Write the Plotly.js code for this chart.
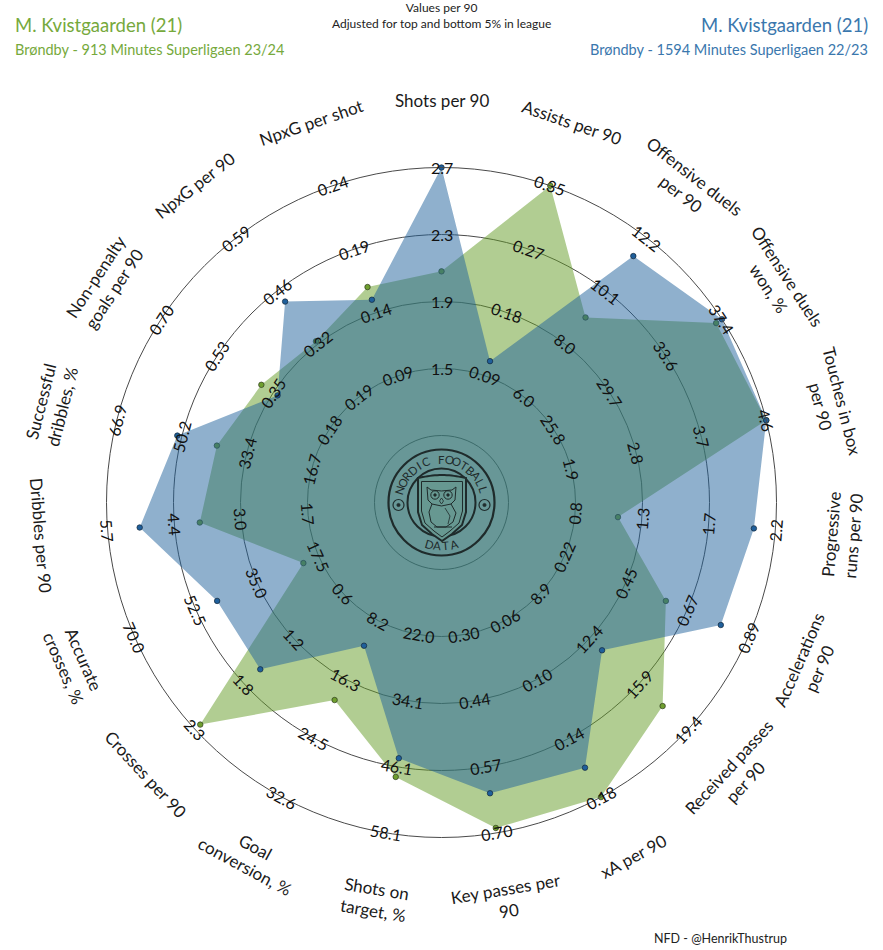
<!DOCTYPE html>
<html><head><meta charset="utf-8">
<script src="https://cdn.plot.ly/plotly-3.0.1.min.js"></script>
<style>html,body{margin:0;padding:0;background:#fff}#chart{width:883px;height:950px}</style>
</head><body><div id="chart"></div>
<script>
// ---------------- DATA ----------------
const params = ["Shots per 90","Assists per 90","Offensive duels<br>per 90","Offensive duels<br>won, %","Touches in box<br>per 90","Progressive<br>runs per 90","Accelerations<br>per 90","Received passes<br>per 90","xA per 90","Key passes per<br>90","Shots on<br>target, %","Goal<br>conversion, %","Crosses per 90","Accurate<br>crosses, %","Dribbles per 90","Successful<br>dribbles, %","Non-penalty<br>goals per 90","NpxG per 90","NpxG per shot"];
const ringLabels = [
 ["1.5","1.9","2.3","2.7"],
 ["0.09","0.18","0.27","0.35"],
 ["6.0","8.0","10.1","12.2"],
 ["25.8","29.7","33.6","37.4"],
 ["1.9","2.8","3.7","4.6"],
 ["0.8","1.3","1.7","2.2"],
 ["0.22","0.45","0.67","0.89"],
 ["8.9","12.4","15.9","19.4"],
 ["0.06","0.10","0.14","0.18"],
 ["0.30","0.44","0.57","0.70"],
 ["22.0","34.1","46.1","58.1"],
 ["8.2","16.3","24.5","32.6"],
 ["0.6","1.2","1.8","2.3"],
 ["17.5","35.0","52.5","70.0"],
 ["1.7","3.0","4.4","5.7"],
 ["16.7","33.4","50.2","66.9"],
 ["0.18","0.35","0.53","0.70"],
 ["0.19","0.32","0.46","0.59"],
 ["0.09","0.14","0.19","0.24"]
];
const values2324 = [2.08, 0.35, 9.1, 37.0, 4.6, 1.10, 0.59, 17.6, 0.18, 0.69, 47.9, 19.2, 2.24, 21.9, 3.86, 41.1, 0.39, 0.33, 0.16];
const values2223 = [2.7, 0.11, 11.5, 37.4, 4.6, 2.05, 0.79, 13.3, 0.16, 0.62, 44.5, 11.7, 1.55, 46.5, 5.06, 51.3, 0.34, 0.43, 0.15];
const name2324 = "M. Kvistgaarden (21)";
const sub2324 = "Brøndby - 913 Minutes Superligaen 23/24";
const name2223 = "M. Kvistgaarden (21)";
const sub2223 = "Brøndby - 1594 Minutes Superligaen 22/23";
const headNote = "Values per 90<br>Adjusted for top and bottom 5% in league";
const credit = "NFD - @HenrikThustrup";

// ---------------- LAYOUT HELPERS ----------------
const W = 883, H = 950;
const CX = 441.5, CY = 502.5, R = 335;       // polar centre & outer radius in px
const N = params.length;
const GREEN = "rgba(99,155,37,0.5)", BLUE = "rgba(31,97,155,0.5)";
const GREEN_TXT = "#76a93c", BLUE_TXT = "#3a77ad";
const DARK = "#1f2b2b";
const px = x => x / W, py = y => 1 - y / H;

function scaled(vals) {
  return vals.map((v, i) => {
    const lo = parseFloat(ringLabels[i][0]), hi = parseFloat(ringLabels[i][3]);
    const u = 2 + 3 * (v - lo) / (hi - lo);
    return Math.max(0, Math.min(5, u));
  });
}
const thetas = params.map((p, i) => i * 360 / N);

function tangentAngle(thetaStd) {
  let a = 90 - thetaStd;
  a = ((a + 180) % 360 + 360) % 360 - 180;
  if (a > 90) a -= 180;
  if (a < -90) a += 180;
  return a;
}
function polarPx(iTheta, rUnits) {
  const t = (90 - iTheta) * Math.PI / 180;
  const r = rUnits / 5 * R;
  return [CX + r * Math.cos(t), CY - r * Math.sin(t)];
}

const traces = [
  {type: "scatterpolar", r: scaled(values2324), theta: thetas, mode: "markers", fill: "toself",
   fillcolor: GREEN, line: {width: 0, color: "rgba(0,0,0,0)"},
   marker: {size: 5.5, color: "#6f9f2f", line: {color: "#2c3a1c", width: 0.7}}, hoverinfo: "skip"},
  {type: "scatterpolar", r: scaled(values2223), theta: thetas, mode: "markers", fill: "toself",
   fillcolor: BLUE, line: {width: 0, color: "rgba(0,0,0,0)"},
   marker: {size: 5.5, color: "#1f5f9b", line: {color: "#13263a", width: 0.7}}, hoverinfo: "skip"}
];

const annotations = [];
// category labels and ring labels
thetas.forEach((th, i) => {
  const std = 90 - th;
  const [lx, ly] = polarPx(th, 6);
  annotations.push({xref: "paper", yref: "paper", x: px(lx), y: py(ly), text: params[i], showarrow: false,
    textangle: tangentAngle(std), font: {family: "Lato", size: 17, color: "#1a1a1a"}, xanchor: "center", yanchor: "middle"});
  ringLabels[i].forEach((lab, k) => {
    const [rx, ry] = polarPx(th, 2 + k);
    annotations.push({xref: "paper", yref: "paper", x: px(rx), y: py(ry), text: lab, showarrow: false,
      textangle: tangentAngle(std), font: {family: "Lato", size: 16, color: "#111"}, xanchor: "center", yanchor: "middle"});
  });
});
// header / footer
annotations.push(
  {xref: "paper", yref: "paper", x: px(13), y: py(25), xanchor: "left", yanchor: "middle", showarrow: false, text: name2324, font: {family: "Lato", size: 18.5, color: GREEN_TXT}},
  {xref: "paper", yref: "paper", x: px(13), y: py(49), xanchor: "left", yanchor: "middle", showarrow: false, text: sub2324, font: {family: "Lato", size: 14.5, color: GREEN_TXT}},
  {xref: "paper", yref: "paper", x: px(870), y: py(25), xanchor: "right", yanchor: "middle", showarrow: false, text: name2223, font: {family: "Lato", size: 18.5, color: BLUE_TXT}},
  {xref: "paper", yref: "paper", x: px(870), y: py(49), xanchor: "right", yanchor: "middle", showarrow: false, text: sub2223, font: {family: "Lato", size: 14.5, color: BLUE_TXT}},
  {xref: "paper", yref: "paper", x: px(441), y: py(15), xanchor: "center", yanchor: "middle", showarrow: false, text: headNote, font: {family: "Lato", size: 12, color: "#222"}},
  {xref: "paper", yref: "paper", x: px(652), y: py(938), xanchor: "left", yanchor: "middle", showarrow: false, text: credit, font: {family: "Lato", size: 12.5, color: "#222"}}
);

// ---------------- LOGO (drawn as shapes + letters) ----------------
const shapes = [];
function circ(cx, cy, r, lw, fill) {
  shapes.push({type: "circle", xref: "paper", yref: "paper", x0: px(cx - r), x1: px(cx + r), y0: py(cy + r), y1: py(cy - r),
    line: {color: DARK, width: lw}, fillcolor: fill || "rgba(0,0,0,0)", layer: "above"});
}
function path(pts, lw, fill, close) {
  let d = pts.map((p, j) => (j ? "L" : "M") + px(p[0]).toFixed(5) + "," + py(p[1]).toFixed(5)).join(" ");
  if (close) d += " Z";
  shapes.push({type: "path", xref: "paper", yref: "paper", path: d, line: {color: DARK, width: lw}, fillcolor: fill || "rgba(0,0,0,0)", layer: "above"});
}
circ(CX, CY, 53, 2.2);
circ(CX, CY, 34, 2);
// shield
const shield = [];
for (let t = 0; t <= 20; t++) { const a = t / 20; shield.push([418 + 48 * a, 478 - 3 * Math.sin(Math.PI * a)]); }
const sh2 = [[466, 478], [466, 512], [462, 525], [452, 534], [442, 541], [432, 534], [422, 525], [418, 512], [418, 478]];
path(shield.concat(sh2), 2, "rgb(103,152,145)", true);
path([[421.5, 481.5], [462.5, 481.5], [462.5, 511], [459, 523], [450, 531], [442, 537], [434, 531], [425, 523], [421.5, 511], [421.5, 481.5]], 1, null, true);
// owl
circ(435, 495, 4.2, 1); circ(448, 495, 4.2, 1);
circ(435, 495, 1.2, 1, DARK); circ(448, 495, 1.2, 1, DARK);
path([[427, 487], [431, 490], [441.5, 491], [452, 490], [456, 487], [455, 500], [451, 504], [441.5, 506], [432, 504], [428, 500], [427, 487]], 1, null, true);
path([[441.5, 498], [439.5, 501], [441.5, 504], [443.5, 501], [441.5, 498]], 0.8, null, true);
path([[432, 504], [429, 512], [431, 522], [437, 527], [446, 527], [453, 522], [456, 513], [451, 504]], 1, null, false);
path([[445, 508], [450, 516], [448, 524]], 0.8, null, false);
path([[434, 527], [452, 527]], 1, null, false);
// footballs
[[398.5, 505], [484.5, 505]].forEach(([bx, by]) => { circ(bx, by, 5.5, 1.2); circ(bx, by, 1.6, 0.8, DARK); });
// arc letters
const topTxt = "NORDIC FOOTBALL";
topTxt.split("").forEach((ch, j) => {
  if (ch === " ") return;
  const a = 163 - j * (163 - 17) / (topTxt.length - 1);
  const t = a * Math.PI / 180;
  annotations.push({xref: "paper", yref: "paper", x: px(CX + 43.5 * Math.cos(t)), y: py(CY - 43.5 * Math.sin(t)), text: ch, showarrow: false,
    textangle: 90 - a, font: {family: "Lato", size: 11.5, color: DARK}, xanchor: "center", yanchor: "middle"});
});
"DATA".split("").forEach((ch, j) => {
  const a = -106 + j * 10.7;
  const t = a * Math.PI / 180;
  annotations.push({xref: "paper", yref: "paper", x: px(CX + 43.5 * Math.cos(t)), y: py(CY - 43.5 * Math.sin(t)), text: ch, showarrow: false,
    textangle: -(a + 90), font: {family: "Lato", size: 11.5, color: DARK}, xanchor: "center", yanchor: "middle"});
});

const layout = {
  width: W, height: H, autosize: false,
  margin: {l: 0, r: 0, t: 0, b: 0, pad: 0},
  paper_bgcolor: "#fff", plot_bgcolor: "#fff",
  showlegend: false,
  polar: {
    domain: {x: [px(CX - R), px(CX + R)], y: [py(CY + R), py(CY - R)]},
    bgcolor: "rgba(0,0,0,0)",
    radialaxis: {range: [0, 5], tickvals: [1, 2, 3, 4], showticklabels: false, ticks: "", showline: false,
      showgrid: true, gridcolor: "#4a4a4a", gridwidth: 1},
    angularaxis: {direction: "clockwise", rotation: 90, showticklabels: false, ticks: "", showgrid: false,
      showline: true, linecolor: "#4a4a4a", linewidth: 1}
  },
  annotations: annotations,
  shapes: shapes
};
Plotly.newPlot("chart", traces, layout, {displayModeBar: false, staticPlot: true});
</script>
</body></html>
